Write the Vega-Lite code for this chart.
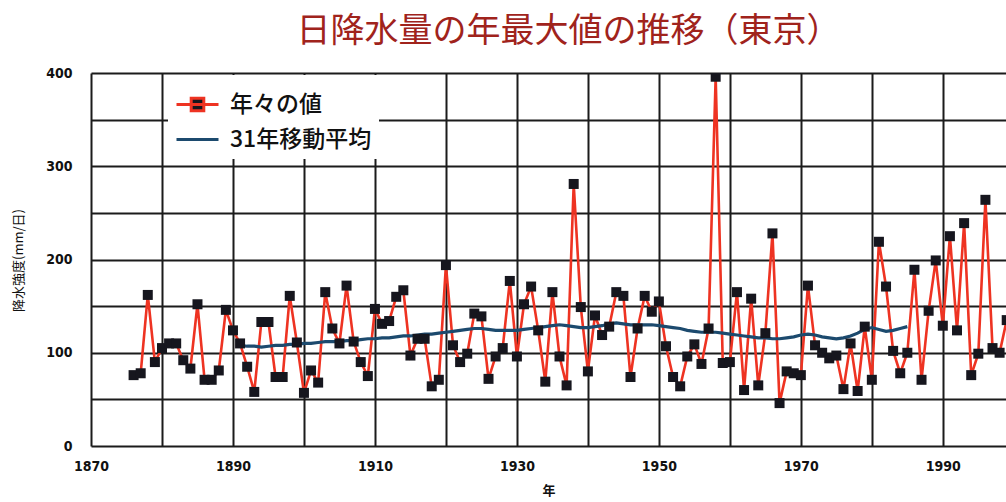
{
  "$schema": "https://vega.github.io/schema/vega-lite/v6.json",
  "width": 915,
  "height": 373,
  "autosize": {"type": "none"},
  "padding": {"left": 91, "top": 73, "right": 0, "bottom": 56},
  "background": "white",
  "config": {"view": {"stroke": null}, "font": "Noto Sans CJK JP"},
  "title": {"text": "日降水量の年最大値の推移（東京）", "fontSize": 34, "font": "Noto Sans CJK JP", "fontWeight": "normal", "color": "#a0231c", "anchor": "middle", "dx": 20, "offset": 17},
  "datasets": {
    "annual": [
      {"year":1876,"v":76},{"year":1877,"v":78},{"year":1878,"v":162},{"year":1879,"v":90},{"year":1880,"v":105},
      {"year":1881,"v":110},{"year":1882,"v":110},{"year":1883,"v":92},{"year":1884,"v":83},{"year":1885,"v":152},
      {"year":1886,"v":71},{"year":1887,"v":71},{"year":1888,"v":81},{"year":1889,"v":146},{"year":1890,"v":124},
      {"year":1891,"v":110},{"year":1892,"v":85},{"year":1893,"v":58},{"year":1894,"v":133},{"year":1895,"v":133},
      {"year":1896,"v":74},{"year":1897,"v":74},{"year":1898,"v":161},{"year":1899,"v":111},{"year":1900,"v":57},
      {"year":1901,"v":81},{"year":1902,"v":68},{"year":1903,"v":165},{"year":1904,"v":126},{"year":1905,"v":110},
      {"year":1906,"v":172},{"year":1907,"v":112},{"year":1908,"v":90},{"year":1909,"v":75},{"year":1910,"v":147},
      {"year":1911,"v":131},{"year":1912,"v":134},{"year":1913,"v":160},{"year":1914,"v":167},{"year":1915,"v":97},
      {"year":1916,"v":115},{"year":1917,"v":115},{"year":1918,"v":64},{"year":1919,"v":71},{"year":1920,"v":194},
      {"year":1921,"v":108},{"year":1922,"v":90},{"year":1923,"v":99},{"year":1924,"v":142},{"year":1925,"v":139},
      {"year":1926,"v":72},{"year":1927,"v":96},{"year":1928,"v":105},{"year":1929,"v":177},{"year":1930,"v":96},
      {"year":1931,"v":152},{"year":1932,"v":171},{"year":1933,"v":124},{"year":1934,"v":69},{"year":1935,"v":165},
      {"year":1936,"v":96},{"year":1937,"v":65},{"year":1938,"v":281},{"year":1939,"v":149},{"year":1940,"v":80},
      {"year":1941,"v":140},{"year":1942,"v":119},{"year":1943,"v":128},{"year":1944,"v":165},{"year":1945,"v":161},
      {"year":1946,"v":74},{"year":1947,"v":126},{"year":1948,"v":161},{"year":1949,"v":144},{"year":1950,"v":155},
      {"year":1951,"v":107},{"year":1952,"v":74},{"year":1953,"v":64},{"year":1954,"v":96},{"year":1955,"v":109},
      {"year":1956,"v":88},{"year":1957,"v":126},{"year":1958,"v":396},{"year":1959,"v":89},{"year":1960,"v":90},
      {"year":1961,"v":165},{"year":1962,"v":60},{"year":1963,"v":158},{"year":1964,"v":65},{"year":1965,"v":121},
      {"year":1966,"v":228},{"year":1967,"v":46},{"year":1968,"v":80},{"year":1969,"v":78},{"year":1970,"v":76},
      {"year":1971,"v":172},{"year":1972,"v":108},{"year":1973,"v":100},{"year":1974,"v":94},{"year":1975,"v":97},
      {"year":1976,"v":61},{"year":1977,"v":110},{"year":1978,"v":59},{"year":1979,"v":128},{"year":1980,"v":71},
      {"year":1981,"v":219},{"year":1982,"v":171},{"year":1983,"v":102},{"year":1984,"v":78},{"year":1985,"v":100},
      {"year":1986,"v":189},{"year":1987,"v":71},{"year":1988,"v":145},{"year":1989,"v":199},{"year":1990,"v":129},
      {"year":1991,"v":225},{"year":1992,"v":124},{"year":1993,"v":239},{"year":1994,"v":76},{"year":1995,"v":99},
      {"year":1996,"v":264},{"year":1997,"v":105},{"year":1998,"v":100},{"year":1999,"v":135}
    ],
    "ma": [
      {"year":1891,"v":108},{"year":1892,"v":107},{"year":1893,"v":107},{"year":1894,"v":106},{"year":1895,"v":107},
      {"year":1896,"v":108},{"year":1897,"v":108},{"year":1898,"v":109},{"year":1899,"v":109},{"year":1900,"v":110},
      {"year":1901,"v":110},{"year":1902,"v":111},{"year":1903,"v":112},{"year":1904,"v":112},{"year":1905,"v":112},
      {"year":1906,"v":113},{"year":1907,"v":113},{"year":1908,"v":114},{"year":1909,"v":115},{"year":1910,"v":115},
      {"year":1911,"v":116},{"year":1912,"v":116},{"year":1913,"v":117},{"year":1914,"v":118},{"year":1915,"v":118},
      {"year":1916,"v":119},{"year":1917,"v":120},{"year":1918,"v":120},{"year":1919,"v":121},{"year":1920,"v":122},
      {"year":1921,"v":123},{"year":1922,"v":124},{"year":1923,"v":125},{"year":1924,"v":126},{"year":1925,"v":126},
      {"year":1926,"v":125},{"year":1927,"v":124},{"year":1928,"v":124},{"year":1929,"v":124},{"year":1930,"v":124},
      {"year":1931,"v":125},{"year":1932,"v":126},{"year":1933,"v":127},{"year":1934,"v":128},{"year":1935,"v":129},
      {"year":1936,"v":130},{"year":1937,"v":129},{"year":1938,"v":128},{"year":1939,"v":127},{"year":1940,"v":127},
      {"year":1941,"v":128},{"year":1942,"v":129},{"year":1943,"v":131},{"year":1944,"v":132},{"year":1945,"v":131},
      {"year":1946,"v":130},{"year":1947,"v":130},{"year":1948,"v":130},{"year":1949,"v":130},{"year":1950,"v":129},
      {"year":1951,"v":128},{"year":1952,"v":127},{"year":1953,"v":126},{"year":1954,"v":124},{"year":1955,"v":123},
      {"year":1956,"v":122},{"year":1957,"v":122},{"year":1958,"v":122},{"year":1959,"v":121},{"year":1960,"v":120},
      {"year":1961,"v":119},{"year":1962,"v":118},{"year":1963,"v":117},{"year":1964,"v":116},{"year":1965,"v":116},
      {"year":1966,"v":115},{"year":1967,"v":115},{"year":1968,"v":116},{"year":1969,"v":117},{"year":1970,"v":119},
      {"year":1971,"v":120},{"year":1972,"v":119},{"year":1973,"v":117},{"year":1974,"v":116},{"year":1975,"v":115},
      {"year":1976,"v":116},{"year":1977,"v":118},{"year":1978,"v":121},{"year":1979,"v":125},{"year":1980,"v":127},
      {"year":1981,"v":125},{"year":1982,"v":123},{"year":1983,"v":124},{"year":1984,"v":126},{"year":1985,"v":128}
    ]
  },
  "encoding": {
    "x": {
      "field": "year", "type": "quantitative",
      "scale": {"domain": [1870, 1998.9], "nice": false, "zero": false},
      "axis": {
        "values": [1870,1880,1890,1900,1910,1920,1930,1940,1950,1960,1970,1980,1990],
        "labelExpr": "datum.value % 20 == 10 ? format(datum.value, 'd') : ''",
        "labelFlush": false,
        "labelFont": "Liberation Sans Narrow, DejaVu Sans Condensed, sans-serif",
        "labelFontSize": 14, "labelFontWeight": "bold", "labelColor": "#111", "labelPadding": 13,
        "grid": true, "gridColor": "#1b1b1b", "gridWidth": 2, "gridOpacity": 1,
        "domain": false, "ticks": false,
        "title": "年", "titleFont": "Noto Sans CJK JP", "titleFontSize": 13, "titleFontWeight": "bold", "titleColor": "#111", "titleY": 38
      }
    },
    "y": {
      "field": "v", "type": "quantitative",
      "scale": {"domain": [0, 400], "nice": false},
      "axis": {
        "values": [0,50,100,150,200,250,300,350,400],
        "labelExpr": "datum.value % 100 == 0 ? format(datum.value, 'd') : ''",
        "labelFont": "Liberation Sans Narrow, DejaVu Sans Condensed, sans-serif",
        "labelFontSize": 14, "labelFontWeight": "bold", "labelColor": "#111", "labelPadding": 19,
        "grid": true, "gridColor": "#1b1b1b", "gridWidth": 2, "gridOpacity": 1,
        "domain": false, "ticks": false,
        "title": "降水強度(mm/日)", "titleFont": "Noto Sans CJK JP", "titleFontSize": 13, "titleFontWeight": "normal", "titleColor": "#111",
        "titleX": -73, "titleY": 187, "titleBaseline": "middle"
      }
    }
  },
  "layer": [
    {
      "data": {"name": "annual"},
      "mark": {"type": "line", "strokeWidth": 2.6, "clip": true},
      "encoding": {
        "color": {
          "datum": "年々の値", "type": "nominal",
          "scale": {"domain": ["年々の値", "31年移動平均"], "range": ["#ee3322", "#1c4a6e"]},
          "legend": {
            "title": null, "orient": "none", "legendX": 77, "legendY": 2,
            "fillColor": "white", "padding": 7,
            "symbolType": "stroke", "symbolSize": 1764, "symbolStrokeWidth": 3,
            "labelFontSize": 23, "labelFont": "Noto Sans CJK JP", "labelFontWeight": 500, "labelColor": "#111",
            "labelOffset": 10, "rowPadding": -8, "labelLimit": 400,
            "encode": {
              "symbols": {
                "update": {
                  "shape": {"signal": "datum.value === '年々の値' ? 'M-1,0H1M-0.3,-0.3H0.3V0.3H-0.3Z' : 'stroke'"},
                  "fill": {"signal": "datum.value === '年々の値' ? '#16161e' : 'transparent'"}
                }
              }
            }
          }
        }
      }
    },
    {
      "data": {"name": "ma"},
      "mark": {"type": "line", "strokeWidth": 3.2, "clip": true},
      "encoding": {"color": {"datum": "31年移動平均", "type": "nominal"}}
    },
    {
      "data": {"name": "annual"},
      "mark": {"type": "point", "shape": "square", "filled": true, "fill": "#16161e", "size": 100, "opacity": 1, "clip": true}
    }
  ]
}
